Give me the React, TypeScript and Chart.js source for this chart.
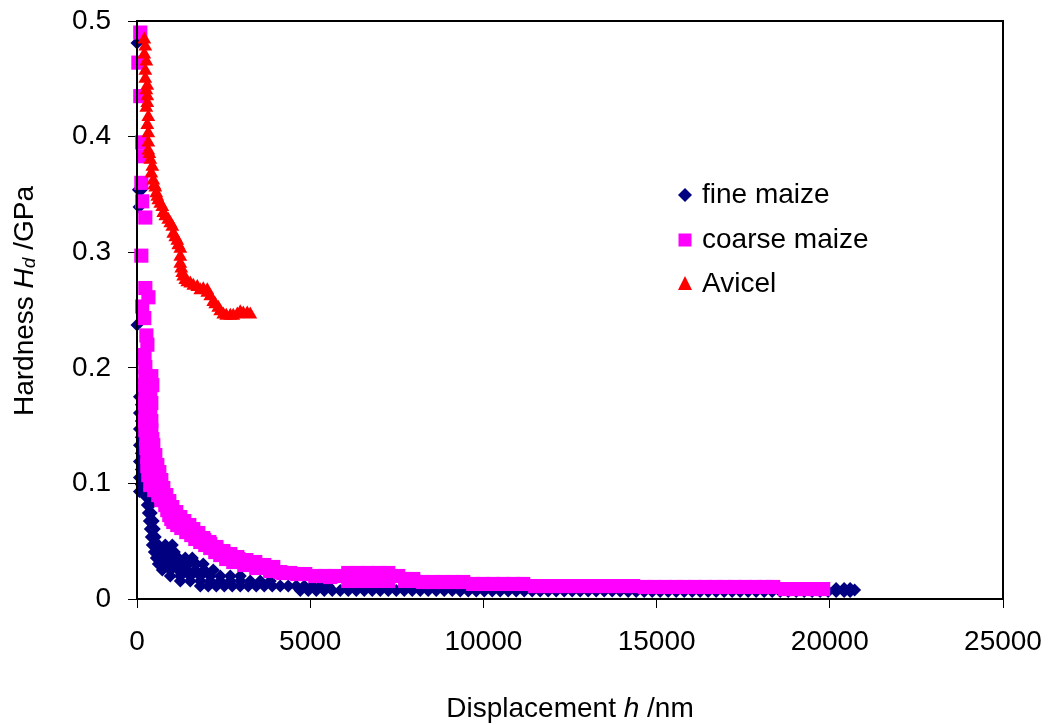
import React, { useEffect, useRef } from 'react';
import { Chart, registerables } from 'chart.js';

Chart.register(...registerables);

// ---------- data ----------
const xTicks = [0, 5000, 10000, 15000, 20000, 25000];
const xTickLabels = ['0', '5000', '10000', '15000', '20000', '25000'];
const yTicks = [0, 0.1, 0.2, 0.3, 0.4, 0.5];
const yTickLabels = ['0', '0.1', '0.2', '0.3', '0.4', '0.5'];

const seriesNames = ['fine maize', 'coarse maize', 'Avicel'];
const seriesColors = ['#000080', '#FF00FF', '#FF0000'];

// [displacement h (nm), hardness Hd (GPa)]
const fineMaize: [number, number][] = [
  [0, 0.481], [0, 0.237], [40, 0.354], [130, 0.354], [60, 0.339],
  [70, 0.175], [125, 0.168], [70, 0.161], [125, 0.154], [70, 0.147], [125, 0.14],
  [70, 0.133], [125, 0.126], [70, 0.119], [125, 0.112], [70, 0.105], [125, 0.099], [70, 0.093],
  [268, 0.0882], [355, 0.0882], [297, 0.0813], [384, 0.0813], [326, 0.0744], [413, 0.0744],
  [355, 0.0674], [470, 0.0674], [384, 0.0605], [499, 0.0605], [413, 0.0536], [528, 0.0536],
  [442, 0.0467], [615, 0.0467], [817, 0.0467], [1019, 0.0467],
  [499, 0.0406], [672, 0.0406], [875, 0.0406], [1077, 0.0406],
  [557, 0.0354], [759, 0.0354], [961, 0.0354], [1192, 0.0354], [1394, 0.0354], [1596, 0.0354],
  [615, 0.0303], [817, 0.0303], [1019, 0.0303], [1250, 0.0303], [1481, 0.0303], [1711, 0.0303], [1913, 0.0303],
  [730, 0.0251], [961, 0.0251], [1192, 0.0251], [1423, 0.0251], [1683, 0.0251], [1942, 0.0251], [2202, 0.0251],
  [961, 0.0199], [1250, 0.0199], [1538, 0.0199], [1827, 0.0199], [2115, 0.0199], [2404, 0.0199], [2693, 0.0199], [2982, 0.0199],
  [1250, 0.0156], [1538, 0.0156], [1827, 0.0156], [2115, 0.0156], [2404, 0.0156], [2693, 0.0156],
  [2982, 0.0156], [3270, 0.0156], [3559, 0.0156], [3847, 0.0156],
  [1827, 0.0112], [2057, 0.0112], [2289, 0.0112], [2520, 0.0112], [2750, 0.0112], [2981, 0.0112],
  [3212, 0.0112], [3443, 0.0112], [3674, 0.0112], [3905, 0.0112], [4136, 0.0112], [4367, 0.0112],
  [4598, 0.0112], [4829, 0.0112], [5060, 0.0112], [5291, 0.0112], [5522, 0.0112],
  [4713, 0.0073], [4944, 0.0073], [5175, 0.0073], [5406, 0.0073], [5637, 0.0073], [5868, 0.0073],
  [6099, 0.0073], [6330, 0.0073], [6561, 0.0073], [6792, 0.0073], [7023, 0.0073], [7253, 0.0073],
  [7484, 0.0073], [7715, 0.0073], [7946, 0.0073], [8177, 0.0073], [8407, 0.0073], [8638, 0.0073],
  [8869, 0.0073], [9100, 0.0073],
  [9331, 0.0069], [9562, 0.0069], [9793, 0.0069], [10024, 0.0069], [10255, 0.0069], [10485, 0.0069],
  [10716, 0.0069], [10947, 0.0069], [11178, 0.0069], [11409, 0.0069], [11640, 0.0069], [11871, 0.0069],
  [12102, 0.0069], [12332, 0.0069], [12563, 0.0069], [12794, 0.0069], [13025, 0.0069], [13256, 0.0069],
  [13487, 0.0069], [13718, 0.0069], [13948, 0.0069],
  [14179, 0.0065], [14410, 0.0065], [14641, 0.0065], [14872, 0.0065], [15103, 0.0065], [15334, 0.0065],
  [15565, 0.0065], [15796, 0.0065], [16027, 0.0065], [16257, 0.0065], [16488, 0.0065], [16719, 0.0065],
  [16950, 0.0065], [17181, 0.0065], [17412, 0.0065], [17643, 0.0065], [17874, 0.0065], [18105, 0.0065],
  [18336, 0.0065], [18567, 0.0065], [18798, 0.0065], [19029, 0.0065], [19260, 0.0065], [19490, 0.0065],
  [19721, 0.0065], [19952, 0.0065],
  [20183, 0.0091], [20183, 0.0065], [20414, 0.0091], [20414, 0.0065], [20587, 0.0091], [20587, 0.0065],
  [20716, 0.0078],
];

const coarseMaize: [number, number][] = [
  [95, 0.49], [40, 0.464], [95, 0.435], [150, 0.395], [210, 0.383], [125, 0.36], [150, 0.344],
  [240, 0.33], [125, 0.297], [240, 0.269], [330, 0.261], [150, 0.253], [210, 0.243], [270, 0.228],
  [300, 0.22], [210, 0.211],
  [211, 0.2084], [240, 0.2006], [413, 0.1928], [442, 0.185], [240, 0.1928], [211, 0.185],
  [240, 0.1772], [384, 0.1772], [211, 0.1695], [413, 0.1695], [240, 0.1617], [384, 0.1617],
  [211, 0.1539], [413, 0.1539], [240, 0.1461], [413, 0.1461], [270, 0.1383], [442, 0.1383],
  [270, 0.1306], [442, 0.1306], [297, 0.1228], [442, 0.1228], [297, 0.115], [470, 0.115],
  [326, 0.1072], [470, 0.1072],
  [470, 0.1331], [528, 0.1245], [586, 0.1159], [644, 0.1098], [701, 0.1029], [759, 0.096],
  [846, 0.0899], [932, 0.0847], [1019, 0.0795], [1134, 0.0752], [1250, 0.0709], [1365, 0.0674],
  [1509, 0.064], [1625, 0.0605], [1769, 0.0571], [1913, 0.0527], [2087, 0.0493], [2289, 0.045],
  [2491, 0.0415], [2693, 0.0389], [2895, 0.0363], [3154, 0.0337], [3414, 0.032], [3674, 0.0294],
  [3934, 0.0277],
  [384, 0.0986], [499, 0.0942], [615, 0.0899], [701, 0.0856], [817, 0.0813], [875, 0.0769],
  [932, 0.0726], [990, 0.0692], [1048, 0.0666], [1163, 0.064], [1279, 0.0614], [1423, 0.0579],
  [1567, 0.0553], [1683, 0.0519], [1827, 0.0493], [1971, 0.0467], [2115, 0.0441], [2260, 0.0406],
  [2404, 0.038], [2577, 0.0346], [2779, 0.032], [3097, 0.0294], [3443, 0.0268], [3847, 0.0242],
  [4222, 0.0225],
  [730, 0.0856], [846, 0.0813], [961, 0.0769], [1048, 0.0726], [1134, 0.0692], [1250, 0.0666],
  [1394, 0.064], [1509, 0.0597], [1625, 0.0562], [1769, 0.0536], [1942, 0.051], [2115, 0.0476],
  [2289, 0.0441], [2491, 0.0406], [2693, 0.0372], [2924, 0.0346], [3154, 0.032], [3414, 0.0294],
  [3674, 0.0277],
  [3847, 0.0259], [4136, 0.0233], [4425, 0.0225], [4627, 0.0216], [4857, 0.0216], [5146, 0.0199],
  [5435, 0.0199], [5724, 0.0199], [5580, 0.0190],
  [6099, 0.0225], [6388, 0.0225], [6676, 0.0225], [6965, 0.0225], [7253, 0.0225],
  [6099, 0.0156], [6388, 0.0156], [6676, 0.0156], [6965, 0.0156], [7253, 0.0156],
  [7541, 0.0199], [7743, 0.0173], [7974, 0.0173], [7743, 0.0156], [7974, 0.0156],
  [8263, 0.0147], [8551, 0.0147], [8840, 0.0147], [9129, 0.0147], [9417, 0.0147],
  [9706, 0.013], [9995, 0.013], [10283, 0.013], [10572, 0.013], [10861, 0.013], [11149, 0.013],
  [11496, 0.0112], [11784, 0.0112], [12073, 0.0112], [12362, 0.0112], [12650, 0.0112], [12939, 0.0112],
  [13228, 0.0112], [13516, 0.0112], [13805, 0.0112], [14093, 0.0112], [14324, 0.0112],
  [14670, 0.0104], [14959, 0.0104], [15248, 0.0104], [15536, 0.0104], [15825, 0.0104], [16113, 0.0104],
  [16402, 0.0104], [16691, 0.0104], [16979, 0.0104], [17268, 0.0104], [17556, 0.0104], [17845, 0.0104],
  [18134, 0.0104], [18365, 0.0104],
  [18711, 0.0086], [19000, 0.0086], [19288, 0.0086], [19577, 0.0086], [19808, 0.0086],
];

const avicel: [number, number][] = [
  [211, 0.484], [240, 0.478], [211, 0.471], [269, 0.465], [240, 0.457], [240, 0.45], [297, 0.444],
  [269, 0.44], [297, 0.435], [297, 0.429], [269, 0.425], [326, 0.417], [297, 0.41], [326, 0.403],
  [326, 0.395], [326, 0.388], [355, 0.385], [384, 0.38], [442, 0.374], [413, 0.368], [470, 0.362],
  [499, 0.358], [528, 0.356], [557, 0.351], [586, 0.348], [615, 0.345], [672, 0.342], [730, 0.339],
  [759, 0.334], [817, 0.331], [903, 0.328], [961, 0.325], [1019, 0.322], [1048, 0.316], [1105, 0.313],
  [1163, 0.31], [1192, 0.306], [1250, 0.303], [1250, 0.296], [1250, 0.29], [1279, 0.286], [1307, 0.282],
  [1336, 0.279], [1394, 0.276], [1452, 0.274], [1538, 0.273], [1625, 0.271], [1740, 0.27],
  [1827, 0.267], [1913, 0.268], [2029, 0.267], [2029, 0.265], [2115, 0.262], [2202, 0.257],
  [2260, 0.255], [2346, 0.252], [2404, 0.249], [2491, 0.246], [2577, 0.245], [2693, 0.245],
  [2779, 0.245], [2895, 0.246], [2981, 0.248], [3068, 0.247], [3183, 0.247], [3270, 0.246],
];

// ---------- drawing helpers ----------
const FONT = '"Liberation Sans", Arial, Helvetica, sans-serif';

type Part = { text: string; font: string; dy?: number };

function drawRich(ctx: CanvasRenderingContext2D, parts: Part[], cx: number, baseline: number) {
  let total = 0;
  parts.forEach((p) => {
    ctx.font = p.font;
    total += ctx.measureText(p.text).width;
  });
  let x = cx - total / 2;
  ctx.textAlign = 'left';
  ctx.textBaseline = 'alphabetic';
  parts.forEach((p) => {
    ctx.font = p.font;
    ctx.fillText(p.text, x, baseline + (p.dy || 0));
    x += ctx.measureText(p.text).width;
  });
}

function drawMarker(ctx: CanvasRenderingContext2D, kind: number, x: number, y: number, color: string) {
  ctx.fillStyle = color;
  ctx.beginPath();
  if (kind === 0) {
    const r = 7;
    ctx.moveTo(x, y - r);
    ctx.lineTo(x + r, y);
    ctx.lineTo(x, y + r);
    ctx.lineTo(x - r, y);
  } else if (kind === 1) {
    ctx.rect(x - 6.5, y - 6.5, 13, 13);
  } else {
    ctx.moveTo(x, y - 8);
    ctx.lineTo(x + 7, y + 6);
    ctx.lineTo(x - 7, y + 6);
  }
  ctx.closePath();
  ctx.fill();
}

const decorPlugin = {
  id: 'decor',
  afterDatasetsDraw(chart: any) {
    const ctx: CanvasRenderingContext2D = chart.ctx;
    const a = chart.chartArea;
    ctx.save();
    // frame
    ctx.strokeStyle = '#000';
    ctx.lineWidth = 2;
    ctx.strokeRect(a.left, a.top, a.right - a.left, a.bottom - a.top);

    // legend
    const lx = 685;
    const rows = [195, 240, 284];
    const baselines = [203, 248, 292];
    seriesNames.forEach((name, i) => {
      drawMarker(ctx, i, lx, rows[i], seriesColors[i]);
      ctx.fillStyle = '#000';
      ctx.font = `28px ${FONT}`;
      ctx.textAlign = 'left';
      ctx.textBaseline = 'alphabetic';
      ctx.fillText(name, 702, baselines[i]);
    });

    // x title
    ctx.fillStyle = '#000';
    drawRich(
      ctx,
      [
        { text: 'Displacement ', font: `28px ${FONT}` },
        { text: 'h', font: `italic 28px ${FONT}` },
        { text: ' /nm', font: `28px ${FONT}` },
      ],
      (a.left + a.right) / 2,
      717
    );

    // y title
    ctx.save();
    ctx.translate(33, 301);
    ctx.rotate(-Math.PI / 2);
    drawRich(
      ctx,
      [
        { text: 'Hardness ', font: `28px ${FONT}` },
        { text: 'H', font: `italic 28px ${FONT}` },
        { text: 'd', font: `italic 19px ${FONT}`, dy: 2 },
        { text: ' /GPa', font: `28px ${FONT}` },
      ],
      0,
      0
    );
    ctx.restore();
    ctx.restore();
  },
};

export default function App() {
  const canvasRef = useRef<HTMLCanvasElement | null>(null);

  useEffect(() => {
    document.body.style.margin = '0';
    const canvas = canvasRef.current;
    if (!canvas) return;
    const toPts = (arr: [number, number][]) => arr.map(([x, y]) => ({ x, y }));

    const chart = new Chart(canvas, {
      type: 'scatter',
      data: {
        datasets: [
          {
            label: seriesNames[0],
            data: toPts(fineMaize),
            pointStyle: 'rectRot',
            pointRadius: 6.5,
            pointBorderWidth: 0,
            backgroundColor: seriesColors[0],
            borderColor: seriesColors[0],
            order: 3,
            clip: false,
          } as any,
          {
            label: seriesNames[1],
            data: toPts(coarseMaize),
            pointStyle: 'rect',
            pointRadius: 10,
            pointBorderWidth: 0,
            backgroundColor: seriesColors[1],
            borderColor: seriesColors[1],
            order: 2,
            clip: false,
          } as any,
          {
            label: seriesNames[2],
            data: toPts(avicel),
            pointStyle: 'triangle',
            pointRadius: 8,
            pointBorderWidth: 0,
            backgroundColor: seriesColors[2],
            borderColor: seriesColors[2],
            order: 1,
            clip: false,
          } as any,
        ],
      },
      options: {
        animation: false,
        responsive: false,
        events: [],
        layout: { padding: { left: 0, top: 21, right: 47, bottom: 0 } },
        plugins: {
          legend: { display: false },
          tooltip: { enabled: false },
        },
        scales: {
          x: {
            type: 'linear',
            min: 0,
            max: 25000,
            afterBuildTicks: (s: any) => {
              s.ticks = xTicks.map((v) => ({ value: v }));
            },
            afterFit: (s: any) => {
              s.height = 126;
              s.paddingLeft = 0;
              s.paddingRight = 0;
            },
            ticks: {
              callback: (v: any) => xTickLabels[xTicks.indexOf(Number(v))] ?? '',
              font: { family: FONT, size: 28 },
              color: '#000',
              padding: 17,
              maxRotation: 0,
              autoSkip: false,
            },
            grid: {
              display: true,
              drawOnChartArea: false,
              drawTicks: true,
              tickLength: 9,
              tickColor: '#000',
              tickWidth: 1,
            },
            border: { display: true, color: '#000', width: 2 },
          },
          y: {
            type: 'linear',
            min: 0,
            max: 0.5,
            afterBuildTicks: (s: any) => {
              s.ticks = yTicks.map((v) => ({ value: v }));
            },
            afterFit: (s: any) => {
              s.width = 137;
              s.paddingTop = 0;
              s.paddingBottom = 0;
            },
            ticks: {
              callback: (v: any) => {
                const i = yTicks.findIndex((t) => Math.abs(t - Number(v)) < 1e-9);
                return i >= 0 ? yTickLabels[i] : '';
              },
              font: { family: FONT, size: 28 },
              color: '#000',
              padding: 17,
              autoSkip: false,
            },
            grid: {
              display: true,
              drawOnChartArea: false,
              drawTicks: true,
              tickLength: 9,
              tickColor: '#000',
              tickWidth: 1,
            },
            border: { display: true, color: '#000', width: 2 },
          },
        },
      },
      plugins: [decorPlugin],
    } as any);

    return () => chart.destroy();
  }, []);

  return (
    <div style={{ position: 'absolute', left: 0, top: 0, width: 1050, height: 725, background: '#fff' }}>
      <canvas ref={canvasRef} width={1050} height={725} style={{ display: 'block', width: 1050, height: 725 }} />
    </div>
  );
}
